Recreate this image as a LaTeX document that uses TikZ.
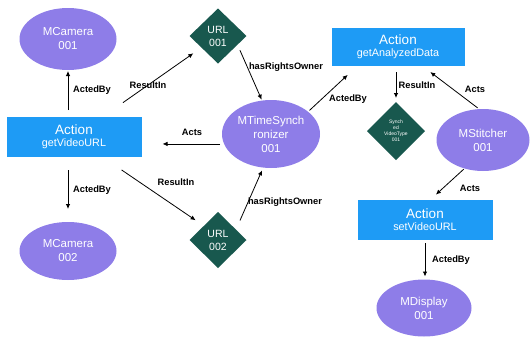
\documentclass[tikz,border=0pt]{standalone}
\usepackage{fontspec}
\setmainfont{Liberation Sans}
\usetikzlibrary{arrows.meta, positioning, shapes.geometric}
\definecolor{agentpurple}{RGB}{142,125,232}
\definecolor{actblue}{RGB}{30,155,245}
\definecolor{datateal}{RGB}{24,88,78}

\begin{document}
\begin{tikzpicture}[x=1pt, y=-1pt,
    agent/.style={ellipse, fill=agentpurple, text=white, minimum width=97pt, minimum height=60pt, inner sep=0pt, outer sep=0pt, align=center, font=\fontsize{11.5}{14}\selectfont},
    actbox/.style={rectangle, fill=actblue, text=white, minimum width=135pt, minimum height=40pt, inner sep=0pt, outer sep=0pt, align=center},
    datanode/.style={diamond, fill=datateal, text=white, minimum width=57pt, minimum height=56pt, inner sep=0pt, outer sep=0pt, align=center, font=\fontsize{10.5}{13}\selectfont},
    rel/.style={font=\bfseries\fontsize{9.3}{11}\selectfont},
    link/.style={-{Latex[length=5pt,width=4.5pt]}, line width=0.8pt}]
    \useasboundingbox (0,0) rectangle (531,338);
    \node[agent, minimum height=62pt] (cam1) at (68,39) {MCamera\\001};
    \node[actbox] (act1) at (74,137) {\fontsize{13.5}{16}\selectfont Action\\\fontsize{10.8}{15}\selectfont getVideoURL};
    \node[datanode, minimum height=55pt] (url1) at (218,36) {URL\\001};
    \node[agent, minimum width=98pt, minimum height=68pt] (sync) at (271,134) {MTimeSynch\\ronizer\\001};
    \node[actbox, minimum width=133pt, minimum height=38pt] (act2) at (398,47) {\fontsize{13.5}{16}\selectfont Action\\\fontsize{10.8}{15}\selectfont getAnalyzedData};
    \node[datanode, minimum width=58pt, minimum height=58pt, font=\fontsize{5}{6}\selectfont] (vtype) at (396,131) {Synch\\ed\\VideoType\\001};
    \node[agent, minimum width=93pt, minimum height=62pt] (stitch) at (483,140) {MStitcher\\001};
    \node[actbox] (act3) at (425,220) {\fontsize{13.5}{16}\selectfont Action\\\fontsize{10.8}{15}\selectfont setVideoURL};
    \node[agent, minimum width=95pt, minimum height=57pt] (disp) at (424,308) {MDisplay\\001};
    \node[agent, minimum height=58pt] (cam2) at (68,251) {MCamera\\002};
    \node[datanode] (url2) at (218,240) {URL\\002};
    \draw[link, shorten <=7pt, shorten >=1pt] (act1.north -| cam1.south) -- (cam1.south);
    \draw[link, shorten <=25pt, shorten >=10pt] (act1) -- (url1);
    \draw[link, shorten <=6pt, shorten >=1pt] (url1.336) -- (sync.105);
    \draw[link, shorten <=4pt, shorten >=21pt] (sync.192) -- (sync.192 -| act1.east);
    \draw[link, shorten <=2pt, shorten >=13pt] (sync.31) -- (act2.205);
    \draw[link, shorten <=6pt, shorten >=4pt] (act2.south -| vtype.north) -- (vtype.north);
    \draw[link, shorten <=2pt, shorten >=10pt] (stitch.97) -- (act2.322);
    \draw[link, shorten <=1pt, shorten >=8pt] (stitch.237) -- (act3.76);
    \draw[link, shorten <=3pt, shorten >=3pt] (act3.south) -- (act3.south |- disp.north);
    \draw[link, shorten <=13pt, shorten >=13pt] (act1.south -| cam2.north) -- (cam2.north);
    \draw[link, shorten <=23pt, shorten >=10pt] (act1.325) -- (url2.135);
    \draw[link, shorten <=10pt, shorten >=3pt] (url2.30) -- (sync.257);
    \node[rel] (lb1) at (92,90) {ActedBy};
    \node[rel] (lb2) at (148,85) {ResultIn};
    \node[rel] (lb3) at (286,67) {hasRightsOwner};
    \node[rel] (lb4) at (192,132) {Acts};
    \node[rel] (lb5) at (348,99) {ActedBy};
    \node[rel] (lb6) at (417,85) {ResultIn};
    \node[rel] (lb7) at (475,89) {Acts};
    \node[rel] (lb8) at (470,188) {Acts};
    \node[rel] (lb9) at (451,260) {ActedBy};
    \node[rel] (lb10) at (92,190) {ActedBy};
    \node[rel] (lb11) at (176,182) {ResultIn};
    \node[rel] (lb12) at (285,202) {hasRightsOwner};
\end{tikzpicture}
\end{document}
